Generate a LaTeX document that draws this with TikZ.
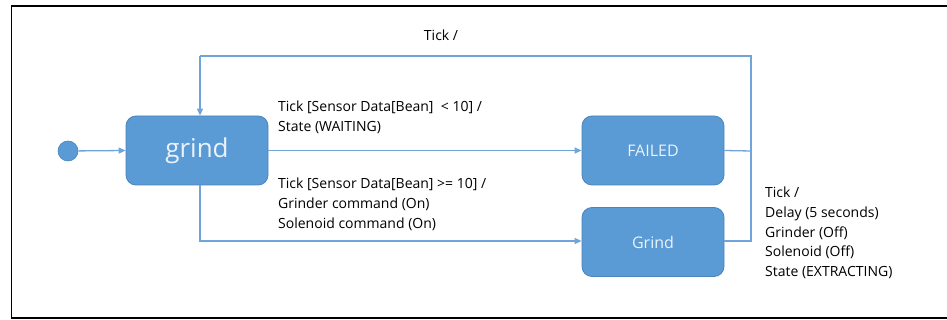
\documentclass[tikz,border=0pt]{standalone}
\usepackage{fontspec}
\setmainfont{Open Sans}
\usetikzlibrary{arrows.meta}
\definecolor{boxfill}{HTML}{5B9BD5}
\definecolor{boxline}{HTML}{4A84BC}
\definecolor{wire}{HTML}{6FA5DA}
\definecolor{boxtext}{HTML}{EAF2FB}
\begin{document}
\begin{tikzpicture}[x=1pt,y=-1pt,
  state/.style={draw=boxline,fill=boxfill,rounded corners=10pt,line width=0.8pt,
    minimum width=142pt,minimum height=69pt,inner sep=0pt,text=boxtext,font=\fontsize{16}{19}\selectfont},
  wireline/.style={draw=wire,line width=1.3pt},
  arr/.style={wireline,-{Triangle[length=7pt,width=6pt]}},
  lbl/.style={inner sep=0pt,anchor=north west,align=left,font=\fontsize{14}{19.7}\selectfont,text=black}]
\useasboundingbox (0,0) rectangle (947,320);
\fill[white] (0,0) rectangle (947,320);
% frame
\draw[black,line width=1.6pt] (947,6) -- (11.5,6) -- (11.5,318) -- (947,318);
% nodes
\node[circle,fill=boxfill,draw=boxline,line width=0.6pt,minimum size=20pt,inner sep=0pt] (init) at (68,151) {};
\node[state,font=\fontsize{26}{30}\selectfont] (grind) at (197,150.5) {grind};
\node[state] (failed) at (653,150.5) {FAILED};
\node[state] (grind2) at (653,242) {Grind};
\coordinate (topL) at (200,56);
\coordinate (topR) at (751,56);
\coordinate (midR) at (751,151);
\coordinate (botR) at (751,241);
\coordinate (botL) at (200,241);
% connectors
\draw[arr] (init) -- (grind.west);
\draw[arr] (grind.east) -- (failed.west);
\draw[arr] (grind.south -| botL) -- (botL) -- (grind2.west |- botL);
\draw[wireline] (failed.east) -- (midR);
\draw[wireline] (grind2.east |- botR) -- (botR) -- (topR) -- (topL);
\draw[arr] (topL) -- (grind.north -| topL);
% labels
\node[lbl,anchor=center] (l0) at (441,35) {Tick /};
\node[lbl] (l1) at (278,101) {Tick [Sensor Data[Bean]~~<~10] /\\State (WAITING)};
\node[lbl] (l2) at (278,178) {Tick [Sensor Data[Bean] >= 10] /\\Grinder command (On)\\Solenoid command (On)};
\node[lbl] (l3) at (765,187) {Tick /\\Delay (5 seconds)\\Grinder (Off)\\Solenoid (Off)\\State (EXTRACTING)};
\end{tikzpicture}
\end{document}
